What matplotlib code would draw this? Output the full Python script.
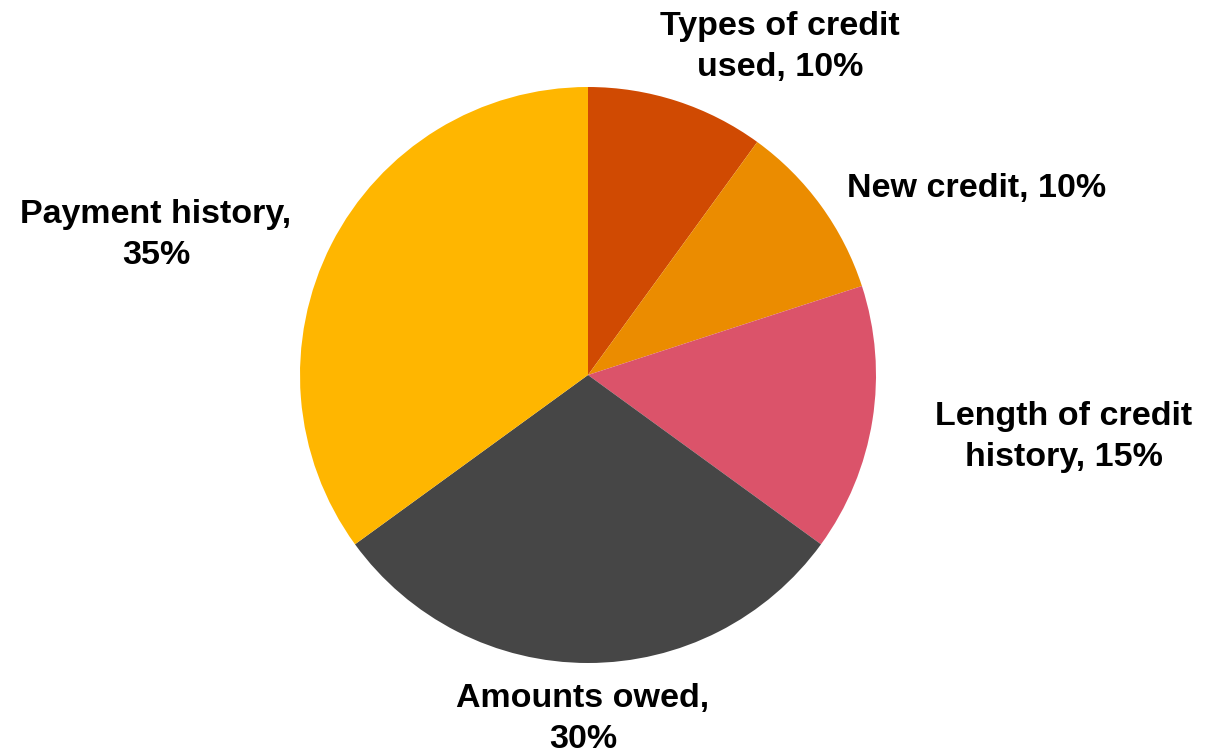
import matplotlib.pyplot as plt

labels = ['Types of credit\nused, 10%', 'New credit, 10%', 'Length of credit\nhistory, 15%',
          'Amounts owed,\n30%', 'Payment history,\n35%']
shares = [10, 10, 15, 30, 35]
colors = ['#D04A02', '#EB8C00', '#DB536A', '#464646', '#FFB600']

# label anchor points (pixels, y from bottom)
label_pos = [(780, 709), (977, 568), (1064, 319), (583, 37), (156, 521)]

plt.rcParams['font.family'] = ['Liberation Sans', 'DejaVu Sans']

fig = plt.figure(figsize=(12.05, 7.56), dpi=100)
ax = fig.add_axes([0, 0, 1, 1])
ax.pie(shares, colors=colors, startangle=90, counterclock=False,
       center=(588, 381), radius=288, wedgeprops=dict(linewidth=0))
for lab, (x, y) in zip(labels, label_pos):
    ax.text(x, y, lab, ha='center', va='center', fontsize=24.5,
            fontweight='bold', linespacing=1.38)
ax.set_xlim(0, 1205)
ax.set_ylim(0, 756)
ax.set_aspect('equal')
ax.axis('off')

plt.savefig('out.png', dpi=100)
